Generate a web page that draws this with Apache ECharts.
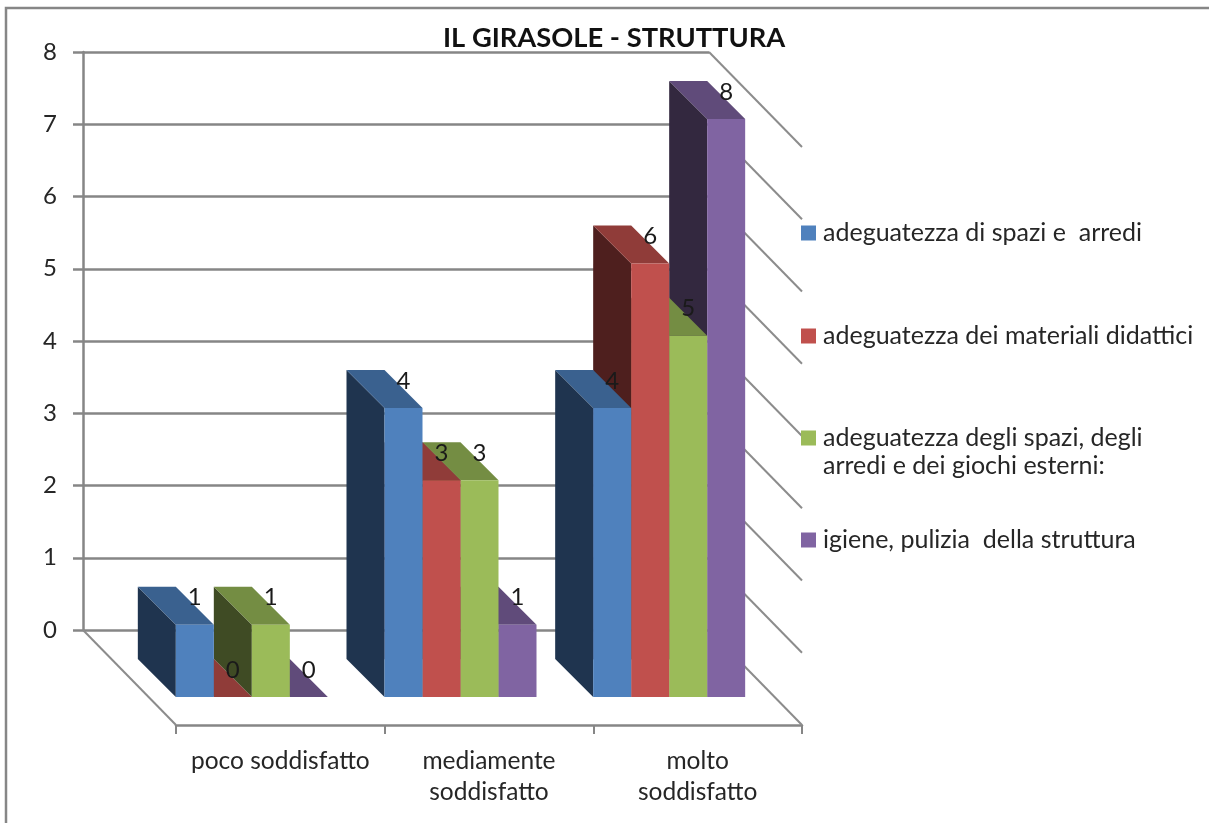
<!DOCTYPE html>
<html>
<head>
<meta charset="utf-8">
<title>IL GIRASOLE - STRUTTURA</title>
<script src="https://cdn.jsdelivr.net/npm/echarts@6/dist/echarts.min.js"></script>
<style>
  html, body { margin: 0; padding: 0; background: #fff; }
  #chart { width: 1209px; height: 823px; }
</style>
</head>
<body>
<div id="chart"></div>
<script>
const categories = ['poco soddisfatto', 'mediamente\nsoddisfatto', 'molto\nsoddisfatto']
const yTicks = [0, 1, 2, 3, 4, 5, 6, 7, 8]
const spaziArredi = [1, 4, 4]
const materiali = [0, 3, 6]
const spaziEsterni = [1, 3, 5]
const igiene = [0, 1, 8]

const seriesNames = [
  'adeguatezza di spazi e  arredi',
  'adeguatezza dei materiali didattici',
  'adeguatezza degli spazi, degli\narredi e dei giochi esterni:',
  'igiene, pulizia  della struttura',
]
const seriesValues = [spaziArredi, materiali, spaziEsterni, igiene]
const frontColors = ['#4F81BD', '#C0504D', '#9BBB59', '#8064A2']
const topColors = ['#3A618F', '#903C39', '#748D43', '#604B7A']
const sideColors = ['#1F344F', '#4E1F1E', '#3F4B24', '#33283F']

const FONT = 'Lato, "Open Sans", sans-serif'
const GRID_COLOR = '#868686'
const BAR_W = 38
const BAR_DEPTH = 38
const FLOOR_DX = 93
const FLOOR_DY = 95

function poly(points, fill) {
  return { type: 'polygon', shape: { points }, style: { fill } }
}

function barItem(idx) {
  return (params, api) => {
    const top = api.coord([api.value(0), api.value(1)])
    const base = api.coord([api.value(0), 0])
    // bars stand on the floor, in front of the back wall
    const x = top[0] - 11.5 + idx * BAR_W
    const yT = top[1] + 67
    const yB = base[1] + 67
    return {
      type: 'group',
      children: [
        poly([[x, yT], [x - BAR_DEPTH, yT - BAR_DEPTH], [x - BAR_DEPTH, yB - BAR_DEPTH], [x, yB]], sideColors[idx]),
        poly([[x, yT], [x + BAR_W, yT], [x, yT - BAR_DEPTH], [x - BAR_DEPTH, yT - BAR_DEPTH]], topColors[idx]),
        { type: 'rect', shape: { x, y: yT, width: BAR_W, height: yB - yT }, style: { fill: frontColors[idx] } },
        {
          type: 'text',
          z2: 50,
          style: {
            text: String(api.value(1)),
            x: x + 19,
            y: yT - 27,
            align: 'center',
            verticalAlign: 'middle',
            fill: '#1a1a1a',
            font: '24px ' + FONT,
          },
        },
      ],
    }
  }
}

// right wall lines and left floor edge, drawn from the y scale
function wallItem(params, api) {
  const rect = params.coordSys
  const p = api.coord([0, api.value(0)])
  const rightX = rect.x + rect.width
  const lineStyle = { stroke: '#8C8C8C', lineWidth: 2 }
  const children = [
    { type: 'line', shape: { x1: rightX, y1: p[1], x2: rightX + FLOOR_DX, y2: p[1] + FLOOR_DY }, style: lineStyle },
  ]
  if (api.value(0) === 0) {
    children.push({
      type: 'line',
      shape: { x1: rect.x, y1: p[1], x2: rect.x + FLOOR_DX, y2: p[1] + FLOOR_DY },
      style: lineStyle,
    })
  }
  return { type: 'group', children }
}

const barSeries = seriesNames.map((name, idx) => ({
  name,
  type: 'custom',
  xAxisIndex: 0,
  yAxisIndex: 0,
  z: 6 - idx,
  clip: false,
  silent: true,
  itemStyle: { color: frontColors[idx] },
  renderItem: barItem(idx),
  data: seriesValues[idx].map((v, i) => [i, v]),
}))

const legendTops = [219, 322, 424, 526]
const legends = seriesNames.map((name, idx) => ({
  left: 801,
  top: legendTops[idx],
  padding: 0,
  orient: 'vertical',
  selectedMode: false,
  itemWidth: 15,
  itemHeight: idx === 2 ? 43 : 15,
  // third entry has two text lines, its square stays on the first one
  icon: idx === 2 ? 'path://M0 0H15V15H0Z M0 43Z' : 'rect',
  data: [name],
  textStyle: { fontFamily: FONT, fontSize: 25, color: '#262626', lineHeight: 28, padding: [0, 0, 0, 2] },
}))

const chart = echarts.init(document.getElementById('chart'), null, { renderer: 'canvas' })
chart.setOption({
  animation: false,
  backgroundColor: '#fff',
  title: {
    text: 'IL GIRASOLE - STRUTTURA',
    left: 443,
    top: 25,
    padding: 0,
    textStyle: { fontFamily: FONT, fontSize: 27.3, fontWeight: 'bold', color: '#111' },
  },
  legend: legends,
  graphic: [
    {
      type: 'polyline',
      silent: true,
      shape: { points: [[6, 823], [6, 8], [1209, 8]] },
      style: { stroke: GRID_COLOR, lineWidth: 2.5, fill: 'none' },
    },
  ],
  grid: [
    { left: 83, top: 52, width: 626, height: 578 },
    { left: 176, top: 100, width: 626, height: 625 },
  ],
  xAxis: [
    { type: 'category', gridIndex: 0, data: categories, show: false },
    {
      type: 'category',
      gridIndex: 1,
      data: categories,
      axisLine: { lineStyle: { color: GRID_COLOR, width: 2.5 } },
      axisTick: { show: true, alignWithLabel: false, length: 9, lineStyle: { color: GRID_COLOR, width: 2 } },
      axisLabel: { interval: 0, margin: 21, fontFamily: FONT, fontSize: 24.5, color: '#262626', lineHeight: 31 },
    },
  ],
  yAxis: [
    {
      type: 'value',
      gridIndex: 0,
      min: 0,
      max: 8,
      interval: 1,
      axisLine: { show: true, lineStyle: { color: GRID_COLOR, width: 2.5 } },
      axisTick: { show: true, length: 10, lineStyle: { color: GRID_COLOR, width: 2.5 } },
      axisLabel: { margin: 26, padding: [12, 0, 0, 0], fontFamily: FONT, fontSize: 24, color: '#262626' },
      splitLine: { lineStyle: { color: GRID_COLOR, width: 2.5 } },
    },
    { type: 'value', gridIndex: 1, show: false, min: 0, max: 8 },
  ],
  series: [
    {
      type: 'custom',
      xAxisIndex: 0,
      yAxisIndex: 0,
      z: 1,
      clip: false,
      silent: true,
      renderItem: wallItem,
      data: yTicks.map((v) => [v]),
    },
    ...barSeries,
  ],
})
</script>
</body>
</html>
